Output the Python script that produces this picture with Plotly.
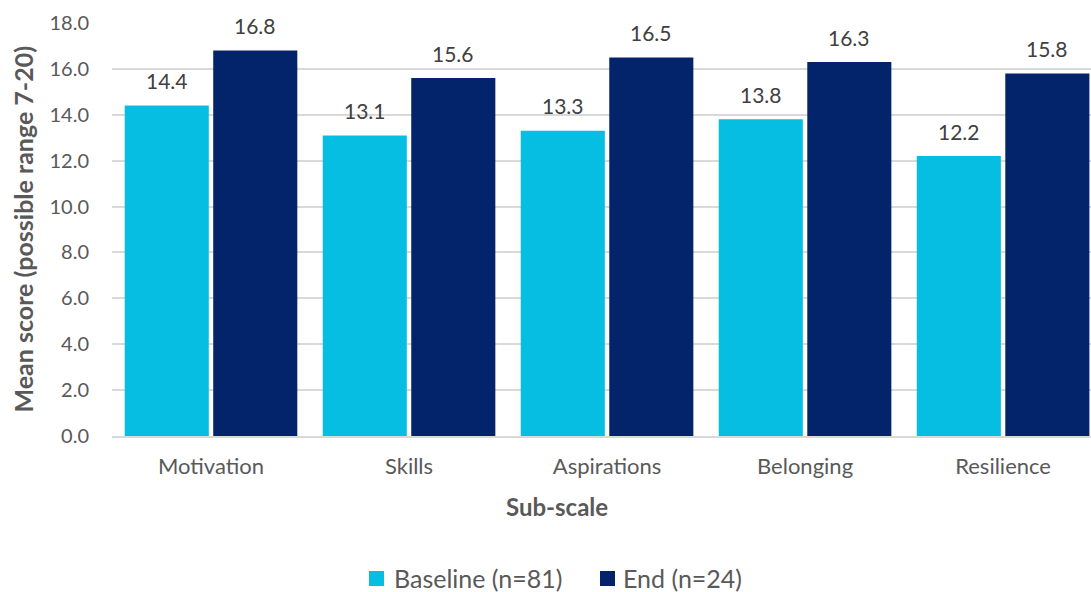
import plotly.graph_objects as go

# Sub-scale mean scores
subscales = ["Motivation", "Skills", "Aspirations", "Belonging", "Resilience"]
baseline = [14.4, 13.1, 13.3, 13.8, 12.2]
end = [16.8, 15.6, 16.5, 16.3, 15.8]
series_names = ["Baseline (n=81)", "End (n=24)"]
y_ticks = [0, 2, 4, 6, 8, 10, 12, 14, 16, 18]

FONT = "Lato"
TEXT = "#595959"
LABEL = "#404040"
BARGAP = 0.106
COLORS = ["#06BEE2", "#03246B"]

W, H = 1091, 592
L, R, T, B = 112, 0, 23, 156
PW, PH = W - L - R, H - T - B


def px_x(x):
    return (x - L) / PW


def px_y(y):
    return (H - B - y) / PH


fig = go.Figure()
for name, vals, color in zip(series_names, [baseline, end], COLORS):
    fig.add_trace(go.Bar(
        x=subscales, y=vals, name=name,
        marker=dict(color=color, line=dict(width=0)),
    ))

# value labels above each bar
slot = (1 - BARGAP) / 2
annotations = []
for k, vals in enumerate([baseline, end]):
    offset = (k - 0.5) * slot
    for i, v in enumerate(vals):
        annotations.append(dict(
            x=i + offset, y=v, xref="x", yref="y", text=f"{v:.1f}",
            showarrow=False, yanchor="middle", yshift=25,
            font=dict(family=FONT, size=21, color=LABEL)))

# legend drawn below the axis title: square swatch + label
shapes = []
legend_items = [(369, 392), (600, 621)]
for (sx, tx), name, color in zip(legend_items, series_names, COLORS):
    shapes.append(dict(type="rect", xref="paper", yref="paper",
                       x0=px_x(sx), x1=px_x(sx + 15), y0=px_y(586), y1=px_y(571),
                       fillcolor=color, line=dict(width=0)))
    annotations.append(dict(text=name, xref="paper", yref="paper",
                            x=px_x(tx), y=px_y(578), xanchor="left", yanchor="middle",
                            showarrow=False, font=dict(family=FONT, size=25, color=TEXT)))

annotations += [
    dict(text="<b>Sub-scale</b>", xref="paper", yref="paper",
         x=0.455, y=px_y(506), xanchor="center", yanchor="middle",
         showarrow=False, font=dict(family=FONT, size=24, color=TEXT)),
    dict(text="<b>Mean score (possible range 7-20)</b>", xref="paper", yref="paper",
         x=px_x(22), y=0.5, xanchor="center", yanchor="middle",
         textangle=-90, showarrow=False,
         font=dict(family=FONT, size=25, color=TEXT)),
]

fig.update_layout(
    width=W, height=H,
    margin=dict(l=L, r=R, t=T, b=B),
    paper_bgcolor="white", plot_bgcolor="white",
    barmode="group", bargap=BARGAP, bargroupgap=0.05,
    font=dict(family=FONT, size=20, color=TEXT),
    showlegend=False,
    xaxis=dict(range=[-0.5, 4.444], showgrid=False, showline=True,
               linecolor="#D9D9D9", linewidth=2, ticks="",
               ticklabelstandoff=10,
               tickfont=dict(family=FONT, size=22, color=TEXT)),
    yaxis=dict(range=[0, 18], tickvals=y_ticks, tickformat=".1f",
               showgrid=True, gridcolor="#D9D9D9", gridwidth=1.5,
               zeroline=False, showline=False, ticks="",
               ticklabelstandoff=22,
               tickfont=dict(family=FONT, size=20, color=TEXT)),
    shapes=shapes,
    annotations=annotations,
)

fig.write_html("out.html")
